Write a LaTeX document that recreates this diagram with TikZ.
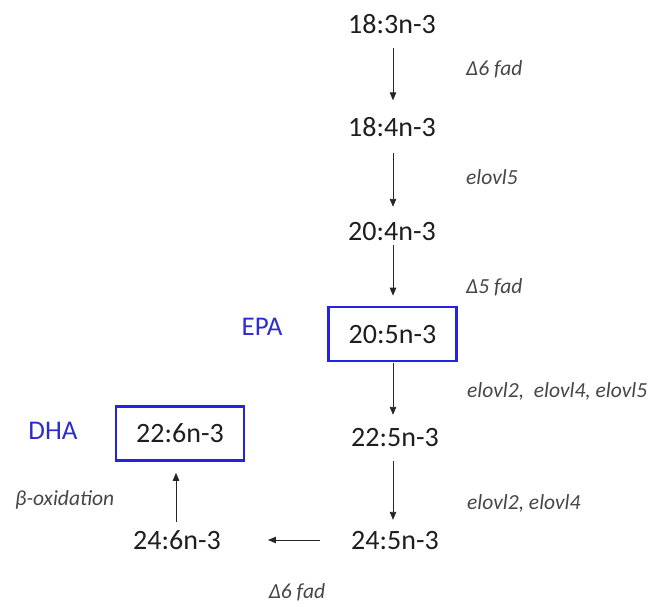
\documentclass[tikz,border=0pt]{standalone}
\usepackage{fontspec}
\setmainfont{Carlito}
\usepackage{tikz}
\usetikzlibrary{arrows.meta}
\definecolor{acidblue}{RGB}{45,45,205}
\definecolor{boxblue}{RGB}{35,35,225}
\definecolor{acidtext}{RGB}{30,30,30}
\definecolor{enzymetext}{RGB}{70,70,70}
\tikzset{acid/.style={text=acidtext,font=\fontsize{28}{30}\selectfont,
   text height=18pt,text depth=0pt,inner sep=0pt},
 keyacid/.style={acid,draw=boxblue,line width=2.6pt,minimum width=128pt,minimum height=54pt},
 enzyme/.style={text=enzymetext,font=\fontsize{21.5}{24}\selectfont\itshape,
   text height=15pt,text depth=0pt,inner sep=0pt},
 acidname/.style={text=acidblue,font=\fontsize{27}{30}\selectfont,
   text height=18pt,text depth=0pt,inner sep=0pt},
 conv/.style={draw=black!85,line width=0.9pt,-{Triangle[length=8pt,width=6.5pt]}},
 }

\begin{document}
\begin{tikzpicture}[x=1pt,y=-1pt]
        \useasboundingbox (0,0) rectangle (652,606);
        % chain of acids
        \node[acid] (a183) at (392, 24) {18:3n-3};
        \node[acid] (a184) at (392, 127.5) {18:4n-3};
        \node[acid] (a204) at (392, 231) {20:4n-3};
        \node[keyacid] (a205) at (392.5, 334) {20:5n-3};
        \node[acid] (a225) at (395, 437) {22:5n-3};
        \node[acid] (a245) at (395, 540) {24:5n-3};
        \node[acid] (a246) at (177, 540) {24:6n-3};
        \node[keyacid] (a226) at (180, 433.5) {22:6n-3};
        \node[acidname] (epa) at (262, 326) {EPA};
        \node[acidname] (dha) at (53, 430) {DHA};
        % enzymes
        \node[enzyme, anchor=west] (e1) at (466, 68) {Δ6 fad};
        \node[enzyme, anchor=west] (e2) at (466, 177) {elovl5};
        \node[enzyme, anchor=west] (e3) at (466, 286) {Δ5 fad};
        \node[enzyme, anchor=west] (e4) at (467, 390) {elovl2,\ \ elovl4, elovl5};
        \node[enzyme, anchor=west] (e5) at (467, 502) {elovl2, elovl4};
        \node[enzyme, anchor=west] (e6) at (15, 498) {β-oxidation};
        \node[enzyme] (e7) at (297, 591) {Δ6 fad};
        % conversions
        \draw[conv, shorten <=15pt, shorten >=18pt] (a183.south -| 393,0) -- (a184.north -| 393,0);
        \draw[conv, shorten <=16pt, shorten >=15pt] (a184.south -| 393,0) -- (a204.north -| 393,0);
        \draw[conv, shorten <=5pt, shorten >=10pt] (a204.south -| 393,0) -- (a205.north -| 393,0);
        \draw[conv, shorten <=1pt, shorten >=13pt] (a205.south -| 393,0) -- (a225.north -| 393,0);
        \draw[conv, shorten <=15pt, shorten >=11pt] (a225.south -| 393,0) -- (a245.north -| 393,0);
        \draw[conv, shorten <=31pt, shorten >=47pt] (a245.west) -- (a246.east);
        \draw[conv, shorten <=9pt, shorten >=11pt] (a246.north -| 176,0) -- (a226.south -| 176,0);
    \end{tikzpicture}
\end{document}
